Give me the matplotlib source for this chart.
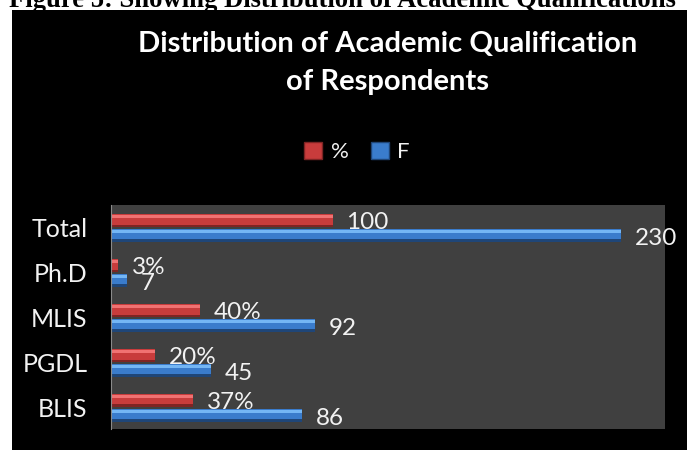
import matplotlib
matplotlib.use("Agg")
from matplotlib import pyplot as plt
from matplotlib.patches import Rectangle, Patch
import numpy as np

# data (bottom to top)
categories = ["BLIS", "PGDL", "MLIS", "Ph.D", "Total"]
freq = [86, 45, 92, 7, 230]
pct = [37, 20, 40, 3, 100]
pct_labels = ["37%", "20%", "40%", "3%", "100"]

plt.rcParams['font.family'] = ['Lato', 'DejaVu Sans']

fig = plt.figure(figsize=(6.87, 4.5), dpi=100)
fig.patch.set_facecolor("white")

# caption of the page, cut off at the top
fig.text(0.013, 1 - 7/450, "Figure 5: Showing Distribution of Academic Qualifications",
         family="Liberation Serif", fontweight="bold", fontsize=19.2, color="black",
         ha="left", va="baseline", zorder=-2)
# black chart area
fig.add_artist(Rectangle((12/687, 0), 1, 1 - 10/450, transform=fig.transFigure,
                         facecolor="black", edgecolor="none", zorder=-1))

ax = fig.add_axes([111/687, 1 - 429/450, 554/687, 224/450])
ax.set_facecolor("#404040")

y = np.arange(len(categories))
h = 0.30
off = 0.165

# bars with a fake 3d look: dark base, mid body, light stripe on top
red_cols = ["#7e2424", "#c83c3c", "#f07272"]
blue_cols = ["#1f4678", "#3a7ccc", "#74b6f4"]
for vals, pos, cols in [(pct, y + off, red_cols), (freq, y - off, blue_cols)]:
    ax.barh(pos, vals, height=h, color=cols[0], zorder=2)
    ax.barh(pos + h*0.1, vals, height=h*0.8, color=cols[1], zorder=3)
    ax.barh(pos + h*0.28, vals, height=h*0.22, color=cols[2], zorder=4)

for i in range(len(categories)):
    ax.annotate(pct_labels[i], (pct[i], y[i] + off), xytext=(10, -1.5), textcoords="offset points",
                color="#f2f2f2", fontsize=17.5, va="center", ha="left", zorder=1)
    ax.annotate(str(freq[i]), (freq[i], y[i] - off), xytext=(10, -2.5), textcoords="offset points",
                color="#f2f2f2", fontsize=17.5, va="center", ha="left", zorder=1, annotation_clip=False)

ax.set_xlim(0, 250)
ax.set_ylim(-0.47, 4.51)
ax.set_yticks(y)
ax.set_yticklabels(categories, fontsize=18, color="#f2f2f2")
ax.tick_params(axis="y", length=0, pad=17)
ax.set_xticks([])
for s in ["top", "right", "bottom"]:
    ax.spines[s].set_visible(False)
ax.spines["left"].set_color("#8a8a8a")
ax.spines["left"].set_zorder(5)

# title, two lines
fig.text(388/687, 1 - 52/450, "Distribution of Academic Qualification", color="white",
         fontsize=21, fontweight="bold", ha="center", va="baseline")
fig.text(388/687, 1 - 90/450, "of Respondents", color="white",
         fontsize=21, fontweight="bold", ha="center", va="baseline")

handles = [Patch(facecolor="#c83c3c", edgecolor="#7e2424"), Patch(facecolor="#3a7ccc", edgecolor="#1f4678")]
leg = fig.legend(handles, ["%", "F"], loc="center", bbox_to_anchor=(357/687, 1 - 152/450),
                 ncol=2, frameon=False, fontsize=16, handlelength=0.8, handleheight=0.8,
                 handletextpad=0.4, columnspacing=1.0)
for t in leg.get_texts():
    t.set_color("#f2f2f2")

plt.savefig("out.png", dpi=100)
